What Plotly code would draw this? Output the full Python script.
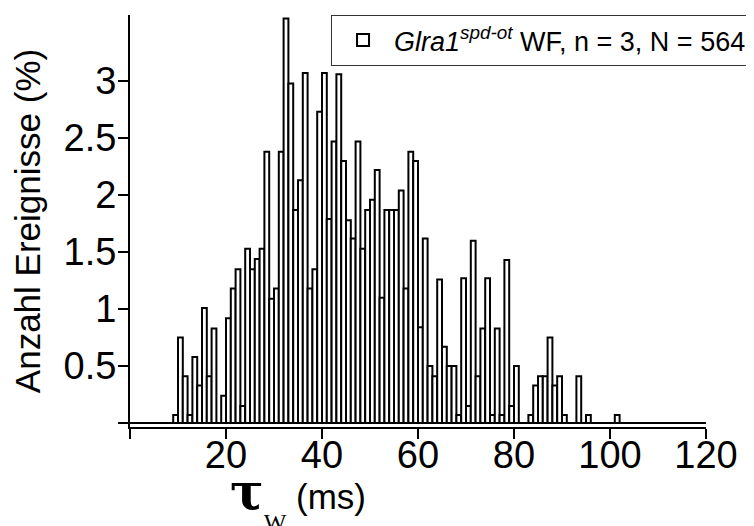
import plotly.graph_objects as go

# Histogram of weighted decay time constants (1 ms bins)
bin_start = list(range(9, 102))  # left edges of the bins, ms
percent = [
    0.07, 0.75, 0.41, 0.07, 0.58, 0.33, 1.01, 0.41, 0.83, 0.00,   # 9-18
    0.24, 0.92, 1.18, 1.35, 0.15, 1.53, 1.35, 1.44, 1.53, 2.38,   # 19-28
    1.09, 1.18, 2.38, 3.55, 2.98, 1.87, 2.13, 3.07, 1.18, 1.35,   # 29-38
    2.73, 3.07, 1.79, 2.47, 3.06, 2.30, 1.78, 1.62, 2.47, 1.53,   # 39-48
    1.87, 1.96, 2.22, 1.10, 1.87, 1.87, 1.87, 2.04, 1.18, 2.38,   # 49-58
    2.30, 0.84, 1.62, 0.50, 0.41, 1.26, 0.67, 0.50, 0.50, 0.07,   # 59-68
    1.27, 0.15, 1.60, 0.41, 0.83, 1.27, 0.07, 0.83, 0.07, 1.43,   # 69-78
    0.15, 0.50, 0.00, 0.00, 0.07, 0.33, 0.41, 0.41, 0.75, 0.33,   # 79-88
    0.41, 0.07, 0.00, 0.00, 0.41, 0.00, 0.07, 0.00, 0.00, 0.00,   # 89-98
    0.00, 0.00, 0.07,                                             # 99-101
]
bin_width = 1.0
x_ticks = [0, 20, 40, 60, 80, 100, 120]
x_ticktext = ["", "20", "40", "60", "80", "100", "120"]
y_ticks = [0, 0.5, 1, 1.5, 2, 2.5, 3]
y_ticktext = ["", "0.5", "1", "1.5", "2", "2.5", "3"]
legend_label = "<i>Glra1<sup>spd-ot</sup></i> WF, n = 3, N = 564"

centers = [b + bin_width / 2 for b in bin_start]

FONT = "Liberation Sans, Arial, sans-serif"

fig = go.Figure()
fig.add_trace(go.Bar(
    x=centers, y=percent, width=bin_width,
    marker=dict(color="white", line=dict(color="black", width=2)),
    name=legend_label, showlegend=True,
))

fig.update_layout(
    width=754, height=526,
    margin=dict(l=122, r=56, t=7, b=107, autoexpand=False),
    plot_bgcolor="white", paper_bgcolor="white",
    font=dict(family=FONT, color="black"),
    showlegend=True,
    legend=dict(
        x=1.0799, xanchor="right", y=1.0, yanchor="top",
        bordercolor="#333", borderwidth=1, bgcolor="white",
        itemwidth=52,
        font=dict(size=27, family=FONT, color="black"),
    ),
    xaxis=dict(
        range=[0, 120], tickvals=x_ticks, ticktext=x_ticktext,
        ticks="outside", ticklen=10, tickwidth=2, tickcolor="black",
        showline=True, linewidth=2, linecolor="black",
        showgrid=False, zeroline=False, automargin=False,
        ticklabelstandoff=-17,
        tickfont=dict(size=38, family=FONT, color="black"),
    ),
    yaxis=dict(
        range=[-0.035, 3.58], tickvals=y_ticks, ticktext=y_ticktext,
        ticks="outside", ticklen=10, tickwidth=2, tickcolor="black",
        showline=True, linewidth=2, linecolor="black",
        showgrid=False, zeroline=True, zerolinewidth=2, zerolinecolor="black",
        automargin=False, ticklabelstandoff=-6,
        tickfont=dict(size=38, family=FONT, color="black"),
        title=dict(text="Anzahl Ereignisse (%)", standoff=18,
                   font=dict(size=35, family=FONT, color="black")),
    ),
    annotations=[dict(
        text=("<span style='font-family:\"DejaVu Serif\";font-size:50px;font-weight:bold'>τ</span>"
              "<sub><span style='font-family:\"Liberation Serif\";font-size:24px;baseline-shift:-14px'>W</span></sub>"
              " (ms)"),
        x=0.292, xref="paper", y=-0.0794, yref="paper",
        xanchor="center", yanchor="top", showarrow=False,
        font=dict(size=35, family=FONT, color="black"),
    )],
)

fig.write_html("out.html")
